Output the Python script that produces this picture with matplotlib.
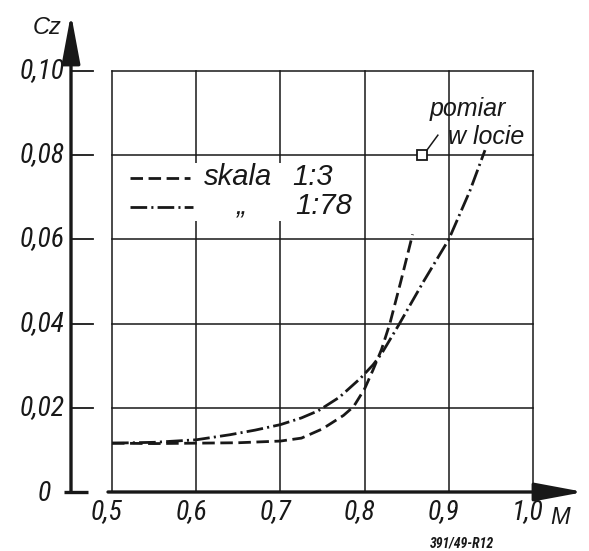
import numpy as np
import matplotlib
matplotlib.use("Agg")
import matplotlib.pyplot as plt
from matplotlib.patches import Rectangle

plt.rcParams['font.family'] = ['Roboto Condensed', 'Liberation Sans Narrow',
                               'Liberation Sans', 'DejaVu Sans']
plt.rcParams['lines.scale_dashes'] = False
WIDE = ['Liberation Sans', 'DejaVu Sans']

INK = '#181818'

# Cz(M) curves
m_13 = [0.50, 0.55, 0.60, 0.65, 0.70, 0.725, 0.75, 0.775, 0.787, 0.80, 0.81, 0.82, 0.83, 0.843, 0.857]
cz_13 = [0.0116, 0.0115, 0.0116, 0.0117, 0.0121, 0.0128, 0.0150, 0.0182, 0.0203, 0.0245, 0.0290, 0.0338, 0.0400, 0.0500, 0.0612]

m_178 = [0.50, 0.55, 0.60, 0.64, 0.67, 0.70, 0.725, 0.745, 0.77, 0.795, 0.81, 0.82, 0.84, 0.87, 0.90, 0.925, 0.943]
cz_178 = [0.0116, 0.0118, 0.0124, 0.0136, 0.0147, 0.0160, 0.0176, 0.0193, 0.0225, 0.0270, 0.0302, 0.0328, 0.0395, 0.0500, 0.0600, 0.0715, 0.0812]

# flight measurement
m_flight = [0.868]
cz_flight = [0.080]

xticks = [0.5, 0.6, 0.7, 0.8, 0.9, 1.0]
xlabels = ['0,5', '0,6', '0,7', '0,8', '0,9', '1,0']
yticks = [0.02, 0.04, 0.06, 0.08, 0.10]
ylabels = ['0,02', '0,04', '0,06', '0,08', '0,10']

DASH = (0, (9, 4))
DASHDOT = (0, (12, 3, 1.5, 3))
ARROW = '-|>,head_length=1.5,head_width=0.28'

fig = plt.figure(figsize=(5.89, 5.51), dpi=100)
ax = fig.add_axes([0, 0, 1, 1])
# pixel scale: 842 px per unit of M, 4210 px per unit of Cz
px, py = 842.0, 4210.0
ax.set_xlim(0.5 - 112 / px, 0.5 + (589 - 112) / px)
ax.set_ylim(-(551 - 492) / py, 492 / py)
ax.axis('off')

# grid
for x in xticks:
    ax.plot([x, x], [0, 0.10], color=INK, lw=1.1, zorder=1)
for y in yticks:
    ax.plot([0.5, 1.0], [y, y], color=INK, lw=1.1, zorder=1)

# axes with arrows
xa = 0.5 - 41 / px
ax.annotate('', xy=(xa, 478 / py), xytext=(xa, 0), zorder=3,
            arrowprops=dict(arrowstyle=ARROW, lw=2.4, color=INK,
                            mutation_scale=20, shrinkA=0, shrinkB=0))
ax.annotate('', xy=(0.5 + 472 / px, 0), xytext=(0.5 - 4 / px, 0), zorder=3,
            arrowprops=dict(arrowstyle=ARROW, lw=2.4, color=INK,
                            mutation_scale=20, shrinkA=0, shrinkB=0))
ax.plot([0.5 - 48 / px, 0.5 - 24 / px], [0, 0], color=INK, lw=2.4, solid_capstyle='butt')
for y in yticks:
    ax.plot([xa, xa + 22 / px], [y, y], color=INK, lw=1.3)

# tick labels
for y, lab in zip(yticks, ylabels):
    ax.text(0.5 - 47 / px, y, lab, ha='right', va='center', fontsize=20,
            style='italic', color=INK)
ax.text(0.5 - 61 / px, -2 / py, '0', ha='right', va='center', fontsize=20,
        style='italic', color=INK)
for x, lab in zip(xticks, xlabels):
    ax.text(x - 5 / px, -20 / py, lab, ha='center', va='center', fontsize=20,
            style='italic', color=INK)
ax.text(0.5 + 448 / px, -26 / py, 'M', ha='center', va='center', fontsize=17,
        style='italic', color=INK, family=WIDE)
ax.text(0.5 - 65 / px, 464 / py, 'Cz', ha='center', va='center', fontsize=17,
        style='italic', color=INK, family=WIDE)
ax.text(0.5 + 350 / px, -51 / py, '391/49-R12', ha='center', va='center',
        fontsize=10, style='italic', fontweight='bold', color=INK)

# curves
ax.plot(m_13, cz_13, color=INK, lw=2.0, linestyle=DASH, zorder=4)
ax.plot(m_178, cz_178, color=INK, lw=2.0, linestyle=DASHDOT, zorder=4)

# legend block
ax.add_patch(Rectangle((0.5 + 3 / px, (492 - 221) / py), 240 / px, 58 / py,
                       facecolor='white', edgecolor='none', zorder=2))
ax.plot([0.5 + 18 / px, 0.5 + 78 / px], [(492 - 178) / py] * 2, color=INK,
        lw=2.0, linestyle=DASH, zorder=4)
ax.plot([0.5 + 18 / px, 0.5 + 81 / px], [(492 - 207) / py] * 2, color=INK,
        lw=2.0, linestyle=DASHDOT, zorder=4)
ax.text(0.5 + 92 / px, (492 - 177) / py, 'skala', ha='left', va='center',
        fontsize=21, style='italic', color=INK, zorder=5, family=WIDE)
ax.text(0.5 + 180 / px, (492 - 177) / py, '1:3', ha='left', va='center',
        fontsize=21, style='italic', color=INK, zorder=5, family=WIDE)
ax.text(0.5 + 130 / px, (492 - 207) / py, '\u201e', ha='center', va='center',
        fontsize=20, style='italic', color=INK, zorder=5, family=WIDE)
ax.text(0.5 + 183 / px, (492 - 206) / py, '1:78', ha='left', va='center',
        fontsize=21, style='italic', color=INK, zorder=5, family=WIDE)

# flight point with its note
ax.plot(m_flight, cz_flight, marker='s', markersize=7, mfc='white', mec=INK,
        mew=1.3, linestyle='none', zorder=5)
ax.plot([m_flight[0] + 5 / px, m_flight[0] + 16 / px],
        [cz_flight[0] + 5 / py, cz_flight[0] + 20 / py], color=INK, lw=1.1)
ax.text(0.5 + 318 / px, (492 - 109) / py, 'pomiar', ha='left', va='center',
        fontsize=18, style='italic', color=INK, family=WIDE)
ax.text(0.5 + 336 / px, (492 - 137) / py, 'w locie', ha='left', va='center',
        fontsize=18, style='italic', color=INK, family=WIDE)

fig.savefig('out.png', dpi=100, facecolor='white')
